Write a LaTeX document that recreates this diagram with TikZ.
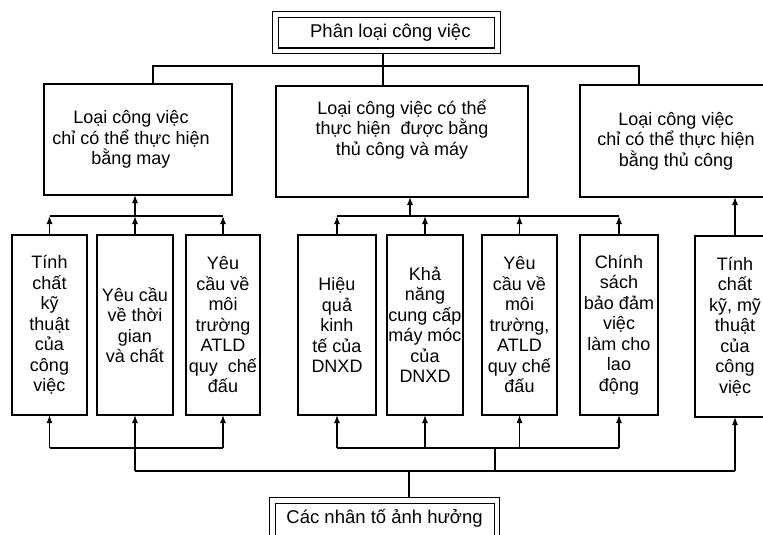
\documentclass[tikz,border=0pt]{standalone}
\usepackage{fontspec}
\setmainfont{Liberation Sans}
\usetikzlibrary{arrows.meta}
\begin{document}
\begin{tikzpicture}[x=1pt,y=-1pt,
  box/.style={draw,line width=1.4pt,inner sep=0pt,outer sep=0pt,anchor=north west,align=center,font=\fontsize{18}{20.5}\selectfont},
  dbox/.style={draw,double,double distance=4.5pt,line width=1.1pt,inner sep=0pt,outer sep=3.35pt,anchor=north west,font=\fontsize{18.5}{21}\selectfont},
  ln/.style={line width=1.3pt},
  arr/.style={line width=1.3pt,-{Latex[length=8pt,width=6pt]}}]
\useasboundingbox (0,0) rectangle (763,535);
% top and bottom double boxes
\node[dbox,minimum width=222pt,minimum height=36.5pt] (T) at (272,11) {\hspace*{8pt}Phân loại công việc};
\node[dbox,minimum width=224.5pt,minimum height=43pt] (B) at (269,497) {\raisebox{0pt}[0pt][0pt]{\raisebox{-2pt}{Các nhân tố ảnh hưởng}}};
% level 1
\node[box,minimum width=188pt,minimum height=111pt] (L) at (44,84) {\hspace*{-14pt}Loại công việc\\\hspace*{-14pt}chỉ có thể thực hiện\\\hspace*{-14pt}bằng may};
\node[box,minimum width=252pt,minimum height=111pt] (M) at (276,86) {Loại công việc có thể\\thực hiện\ \ được bằng\\thủ công và máy\\[8pt]};
\node[box,minimum width=192pt,minimum height=112pt] (R) at (580,85) {Loại công việc\\chỉ có thể thực hiện\\bằng thủ công};
% level 2
\node[box,minimum width=75pt,minimum height=180pt] (b1) at (12,235) {Tính\\chất\\kỹ\\thuật\\của\\công\\việc};
\node[box,minimum width=76pt,minimum height=180pt] (b2) at (97,235) {Yêu cầu\\về thời\\gian\\và chất};
\node[box,minimum width=74pt,minimum height=180pt] (b3) at (186,235) {Yêu\\cầu về\\môi\\trường\\ATLD\\quy\ \ chế\\đấu};
\node[box,minimum width=78pt,minimum height=180pt] (b4) at (298,235) {Hiệu\\quả\\kinh\\tế của\\DNXD};
\node[box,minimum width=76pt,minimum height=180pt] (b5) at (387,235) {Khả\\năng\\cung cấp\\máy móc\\của\\DNXD};
\node[box,minimum width=75pt,minimum height=180pt] (b6) at (482,235) {Yêu\\cầu về\\môi\\trường,\\ATLD\\quy chế\\đấu};
\node[box,minimum width=78pt,minimum height=180pt] (b7) at (580,235) {Chính\\sách\\bảo đảm\\việc\\làm cho\\lao\\động};
\node[box,minimum width=80pt,minimum height=181pt] (b8) at (695,236) {Tính\\chất\\kỹ, mỹ\\thuật\\của\\công\\việc};
% helper coordinates
\coordinate (tc) at (383,0);
\coordinate (hl) at (153,66);
\coordinate (hr) at (639,66);
\coordinate (lb) at (0,216);
\coordinate (mc) at (410,216);
\coordinate (rc) at (735,0);
\coordinate (bb) at (0,448);
\coordinate (lo) at (0,471);
\coordinate (mj) at (495,448);
\coordinate (bc) at (409,471);
% top connections
\draw[ln] (tc |- T.south) -- (tc |- M.north);
\draw[ln] (hl |- L.north) -- (hl) -- (hr) -- (hr |- R.north);
% upper buses
\draw[ln] (b1.north |- lb) -- (b3.north |- lb);
\draw[arr] (b1.north) -- (b1.north |- lb);
\draw[arr] (b2.north) -- (b2.north |- lb);
\draw[arr] (b3.north) -- (b3.north |- lb);
\draw[arr] (b2.north |- lb) -- (b2.north |- L.south);
\draw[ln] (b4.north |- lb) -- (b7.north |- lb);
\draw[arr] (b4.north) -- (b4.north |- lb);
\draw[arr] (b5.north) -- (b5.north |- lb);
\draw[arr] (b6.north) -- (b6.north |- lb);
\draw[arr] (b7.north) -- (b7.north |- lb);
\draw[arr] (mc) -- (mc |- M.south);
\draw[arr] (rc |- b8.north) -- (rc |- R.south);
% lower buses
\draw[ln] (b1.south |- bb) -- (b3.south |- bb);
\draw[arr] (b1.south |- bb) -- (b1.south);
\draw[arr] (b3.south |- bb) -- (b3.south);
\draw[arr] (b2.south |- lo) -- (b2.south);
\draw[ln] (b4.south |- bb) -- (b7.south |- bb);
\draw[arr] (b4.south |- bb) -- (b4.south);
\draw[arr] (b5.south |- bb) -- (b5.south);
\draw[arr] (b6.south |- bb) -- (b6.south);
\draw[arr] (b7.south |- bb) -- (b7.south);
\draw[ln] (mj) -- (mj |- lo);
\draw[ln] (b2.south |- lo) -- (rc |- lo);
\draw[arr] (rc |- lo) -- (rc |- b8.south);
\draw[ln] (bc) -- (bc |- B.north);
\end{tikzpicture}
\end{document}
